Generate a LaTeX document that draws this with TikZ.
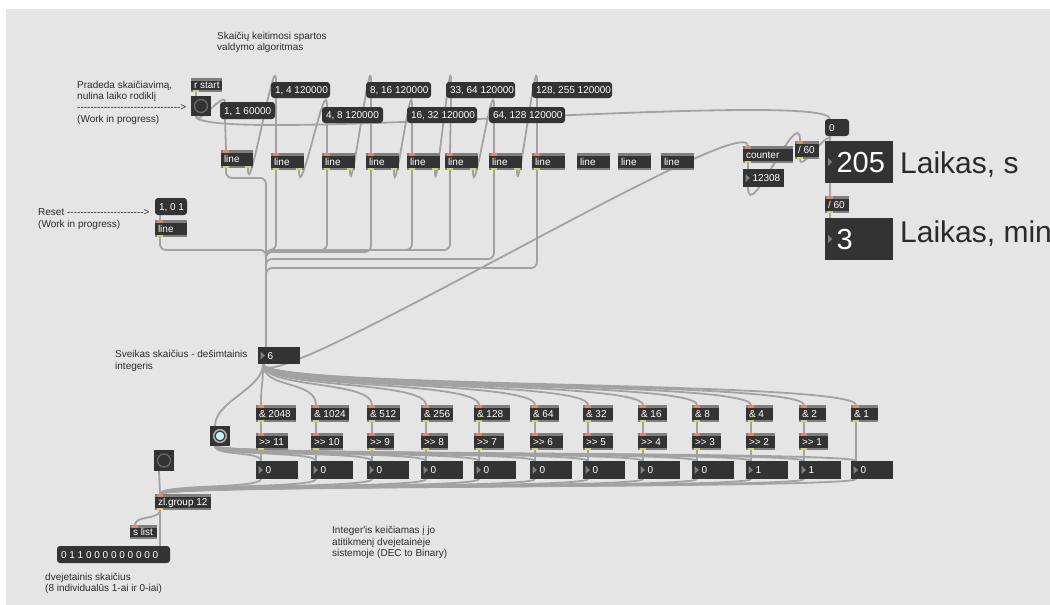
\documentclass[tikz,border=0pt]{standalone}
\usepackage{fontspec}
\setmainfont{Liberation Sans}[Ligatures=TeXOff]
\usetikzlibrary{calc}
\pgfdeclarelayer{backl}
\pgfdeclarelayer{cordl}
\pgfsetlayers{backl,cordl,main}
\definecolor{bgc}{HTML}{E5E5E5}
\definecolor{boxc}{HTML}{333333}
\definecolor{stripc}{HTML}{7F7F7F}
\definecolor{cordc}{HTML}{A2A2A2}
\definecolor{commc}{HTML}{2A2A2A}
\definecolor{inc}{HTML}{E3876B}
\definecolor{outc}{HTML}{D2D25C}
\definecolor{trigc}{HTML}{808080}
\definecolor{ringc}{HTML}{6A6A6A}
\definecolor{ringb}{HTML}{A8A8A8}
\definecolor{bluec}{HTML}{C4F0F7}

\newcommand\mobj[6]{%
  \node[objbox,minimum width=#4pt,minimum height=#5pt] (#1) at (#2,#3) {};
  \fill[stripc] (#1.north west) rectangle ([yshift=-2.5pt]#1.north east);
  \fill[stripc] ([yshift=2.5pt]#1.south west) rectangle (#1.south east);
  \node[txt] (#1-t) at ([xshift=3pt]#1.west) {#6};}
\newcommand\mmsg[6]{%
  \node[msgbox,minimum width=#4pt,minimum height=#5pt] (#1) at (#2,#3) {};
  \node[txt] (#1-t) at ([xshift=4pt]#1.west) {#6};}
\newcommand\mnum[6]{%
  \node[objbox,minimum width=#4pt,minimum height=#5pt] (#1) at (#2,#3) {};
  \fill[trigc] ([xshift=2.5pt,yshift=4pt]#1.west) -- ([xshift=2.5pt,yshift=-4pt]#1.west) -- ([xshift=7pt]#1.west) -- cycle;
  \node[txt] (#1-t) at ([xshift=9.5pt]#1.west) {#6};}
\newcommand\mbig[6]{%
  \node[objbox,minimum width=#4pt,minimum height=#5pt] (#1) at (#2,#3) {};
  \fill[trigc] ([xshift=3pt,yshift=4pt]#1.west) -- ([xshift=3pt,yshift=-4pt]#1.west) -- ([xshift=7pt]#1.west) -- cycle;
  \node[bigtxt] (#1-t) at ([xshift=11.5pt]#1.west) {#6};}
\newcommand\mbang[5]{%
  \node[objbox,minimum width=#4pt,minimum height=#5pt] (#1) at (#2,#3) {};
  \draw[ringc,line width=1.3pt] (#1.center) circle[radius=6.5pt];}
\newcommand\cmt[4]{\node[comm] (#1) at (#2,#3) {#4};}
\newcommand\pin[1]{\fill[inc] ([xshift=2pt]#1.north west) rectangle ([xshift=8pt,yshift=-2.5pt]#1.north west);}
\newcommand\pout[1]{\fill[outc] ([xshift=2pt,yshift=2.5pt]#1.south west) rectangle ([xshift=8pt]#1.south west);}
\newcommand\poutr[1]{\fill[outc] ([xshift=-8pt,yshift=2.5pt]#1.south east) rectangle ([xshift=-2pt]#1.south east);}
\newcommand\cordLL[3]{\draw[cord] ([xshift=5pt]#1.south west) .. controls +(0,#3) and +(0,-#3) .. ([xshift=5pt]#2.north west);}
\newcommand\cordRL[3]{\draw[cord] ([xshift=-5pt]#1.south east) .. controls +(0,#3) and +(0,-#3) .. ([xshift=5pt]#2.north west);}
\newcommand\cordS[2]{\draw[cord] ([xshift=5pt]#1.south west) -- ([xshift=5pt]#2.north west);}

\begin{document}
\begin{tikzpicture}[x=1pt,y=-1pt,
  objbox/.style={fill=boxc,draw=none,inner sep=0pt,outer sep=0pt,anchor=north west},
  msgbox/.style={objbox,rounded corners=3pt},
  txt/.style={text=white,font=\fontsize{10}{12}\selectfont,inner sep=0pt,outer sep=0pt,anchor=west,text height=7.2pt,text depth=0pt},
  bigtxt/.style={text=white,font=\fontsize{29}{32}\selectfont,inner sep=0pt,outer sep=0pt,anchor=west,text height=20.8pt,text depth=0pt},
  comm/.style={text=commc,font=\fontsize{10}{12}\selectfont,inner sep=0pt,anchor=base west},
  bigcomm/.style={text=commc,font=\fontsize{30}{34}\selectfont,inner sep=0pt,anchor=base west},
  cord/.style={draw=cordc,line width=1.8pt,line cap=round}]
\useasboundingbox (0,0) rectangle (1050,605);
\begin{pgfonlayer}{backl}
  \fill[white] (0,0) rectangle (1050,605);
  \fill[bgc] (6,9) rectangle (1050,605);
\end{pgfonlayer}

% comments
\cmt{c1a}{217}{39}{Skaičių keitimosi spartos}
\cmt{c1b}{217}{50.5}{valdymo algoritmas}
\cmt{c2a}{77}{88.5}{Pradeda skaičiavimą,}
\cmt{c2b}{77}{99.5}{nulina laiko rodiklį}
\cmt{c2c}{77}{110.5}{------------------------------->}
\cmt{c2d}{77}{122.5}{(Work in progress)}
\cmt{c3a}{38}{215.5}{Reset ----------------------->}
\cmt{c3b}{38}{227}{(Work in progress)}
\cmt{c4a}{115}{357.5}{Sveikas skaičius - dešimtainis}
\cmt{c4b}{115}{369}{integeris}
\cmt{c5a}{332}{533.5}{Integer'is keičiamas į jo}
\cmt{c5b}{332}{545}{atitikmenį dvejetainėje}
\cmt{c5c}{332}{556.5}{sistemoje (DEC to Binary)}
\cmt{c6a}{45}{580}{dvejetainis skaičius}
\cmt{c6b}{45}{591.5}{(8 individualūs 1-ai ir 0-iai)}

% top section
\mobj{rstart}{191}{78}{31}{14}{r start}
\mbang{btn1}{191}{96}{20}{20}
\mmsg{msg11}{220}{102}{55}{17}{1, 1 60000}
\mmsg{msg4}{271}{82}{59}{16}{1, 4 120000}
\mmsg{msg8}{322}{107}{61}{16}{4, 8 120000}
\mmsg{msg16}{366}{82}{65}{16}{8, 16 120000}
\mmsg{msg32}{407}{107}{70}{16}{16, 32 120000}
\mmsg{msg64}{446}{82}{69}{16}{33, 64 120000}
\mmsg{msg128}{489}{107}{76}{16}{64, 128 120000}
\mmsg{msg255}{532}{82}{80}{16}{128, 255 120000}
\mobj{line1}{221}{150}{32}{18}{line}
\foreach \i/\x in {2/271,3/322,4/366,5/407,6/445,7/489,8/532,9/577,10/618,11/661}
  {\mobj{line\i}{\x}{153}{33}{17}{line}}

% counter section
\mobj{counter}{743}{146}{50}{17}{counter}
\mobj{div1}{795}{141}{24}{18}{/ 60}
\mmsg{msg0}{825}{119}{24}{17}{0}
\mbig{big205}{825}{141}{68}{42}{205}
\node[bigcomm] (laiks) at (900,173) {Laikas, s};
\mnum{n12308}{743}{169}{41}{18}{12308}
\mobj{div2}{825}{196}{24}{17}{/ 60}
\mbig{big3}{825}{218}{68}{42}{3}
\node[bigcomm] (laikmin) at (900,242) {Laikas, min};

% reset
\mmsg{msg101}{155}{198}{32}{17}{1, 0 1}
\mobj{lineR}{155}{220}{32}{17}{line}
\mnum{intbox}{258}{347}{42}{17}{6}

% bits
\foreach \i/\x/\w/\t in {1/256/40/2048,2/311/38/1024,3/367/33/512,4/421/32/256,5/474/36/128,6/530/29/64,7/583/30/32,8/638/29/16,9/692/27/8,10/746/27/4,11/799/27/2,12/851/27/1}
  {\mobj{and\i}{\x}{405}{\w}{17}{\& \t}\pin{and\i}\pout{and\i}}
\foreach \i/\x/\w in {1/256/32,2/311/32,3/367/27,4/421/27,5/474/30,6/530/33,7/583/30,8/638/29,9/692/29,10/746/29,11/799/29}
  {\pgfmathtruncatemacro\s{12-\i}\mobj{shr\i}{\x}{433}{\w}{17}{>> \s}\pin{shr\i}\pout{shr\i}}
\foreach \i/\x/\v in {1/256/0,2/311/0,3/367/0,4/421/0,5/474/0,6/530/0,7/583/0,8/638/0,9/692/0,10/746/1,11/799/1,12/851/0}
  {\mnum{bit\i}{\x}{461}{42}{18}{\v}}
\mbang{bang2}{210}{426}{20}{20}
\fill[ringb] (bang2.center) circle[radius=7pt];
\fill[boxc] (bang2.center) circle[radius=5.5pt];
\fill[bluec] (bang2.center) circle[radius=4.2pt];
\mbang{bang3}{154}{450}{20}{21}
\mobj{zl}{155}{494}{56}{16}{zl.group 12}
\mobj{slist}{130}{525}{27}{14}{s list}
\mmsg{msgbin}{57}{546}{113}{17}{0 1 1 0 0 0 0 0 0 0 0 0}
\coordinate (zlout) at ([xshift=5pt]zl.south west);

% ports
\pout{rstart}
\foreach \i in {1,...,8}{\pin{line\i}\pout{line\i}}
\foreach \i in {1,...,7}{\poutr{line\i}}
\pin{lineR}\pout{lineR}
\pin{counter}\pout{counter}
\pin{div1}\pout{div1}\pin{div2}\pout{div2}
\pin{zl}\pout{zl}\pin{slist}

% cords
\begin{pgfonlayer}{cordl}
  \cordS{rstart}{btn1}
  \cordLL{btn1}{msg11}{12}
  \cordLL{btn1}{msg0}{30}
  \cordS{msg11}{line1}
  \cordS{msg4}{line2}
  \cordS{msg8}{line3}
  \cordS{msg16}{line4}
  \cordS{msg32}{line5}
  \cordS{msg64}{line6}
  \cordS{msg128}{line7}
  \cordS{msg255}{line8}
  \cordRL{line1}{msg4}{40}
  \cordRL{line2}{msg8}{40}
  \cordRL{line3}{msg16}{40}
  \cordRL{line4}{msg32}{40}
  \cordRL{line5}{msg64}{40}
  \cordRL{line6}{msg128}{40}
  \cordRL{line7}{msg255}{40}
  \draw[cord,rounded corners=6pt] ([xshift=5pt]line1.south west) |- (266,178) -- ([xshift=8pt]intbox.north west);
  \foreach \i/\yy in {2/250,3/250,4/252,5/250,6/250,7/259,8/268}
    {\draw[cord,rounded corners=6pt] ([xshift=5pt]line\i.south west) |- (266,\yy) -- ([xshift=8pt]intbox.north west);}
  \cordS{msg101}{lineR}
  \draw[cord,rounded corners=6pt] ([xshift=5pt]lineR.south west) |- (266,250) -- ([xshift=8pt]intbox.north west);
  \cordLL{intbox}{counter}{40}
  \cordS{counter}{n12308}
  \cordLL{n12308}{div1}{40}
  \cordLL{div1}{big205}{15}
  \cordS{msg0}{big205}
  \cordS{big205}{div2}
  \cordS{div2}{big3}
  \foreach \i in {1,...,12}{\cordLL{intbox}{and\i}{25}}
  \cordLL{intbox}{bang2}{25}
  \foreach \i in {1,...,11}{\cordS{and\i}{shr\i}\cordS{shr\i}{bit\i}}
  \cordS{and12}{bit12}
  \foreach \i in {1,...,12}{\cordLL{bang2}{bit\i}{10}\cordLL{bit\i}{zl}{10}}
  \cordS{bang3}{zl}
  \cordLL{zl}{slist}{10}
  \draw[cord] (zlout) -- (zlout |- msgbin.north);
\end{pgfonlayer}
\end{tikzpicture}
\end{document}
